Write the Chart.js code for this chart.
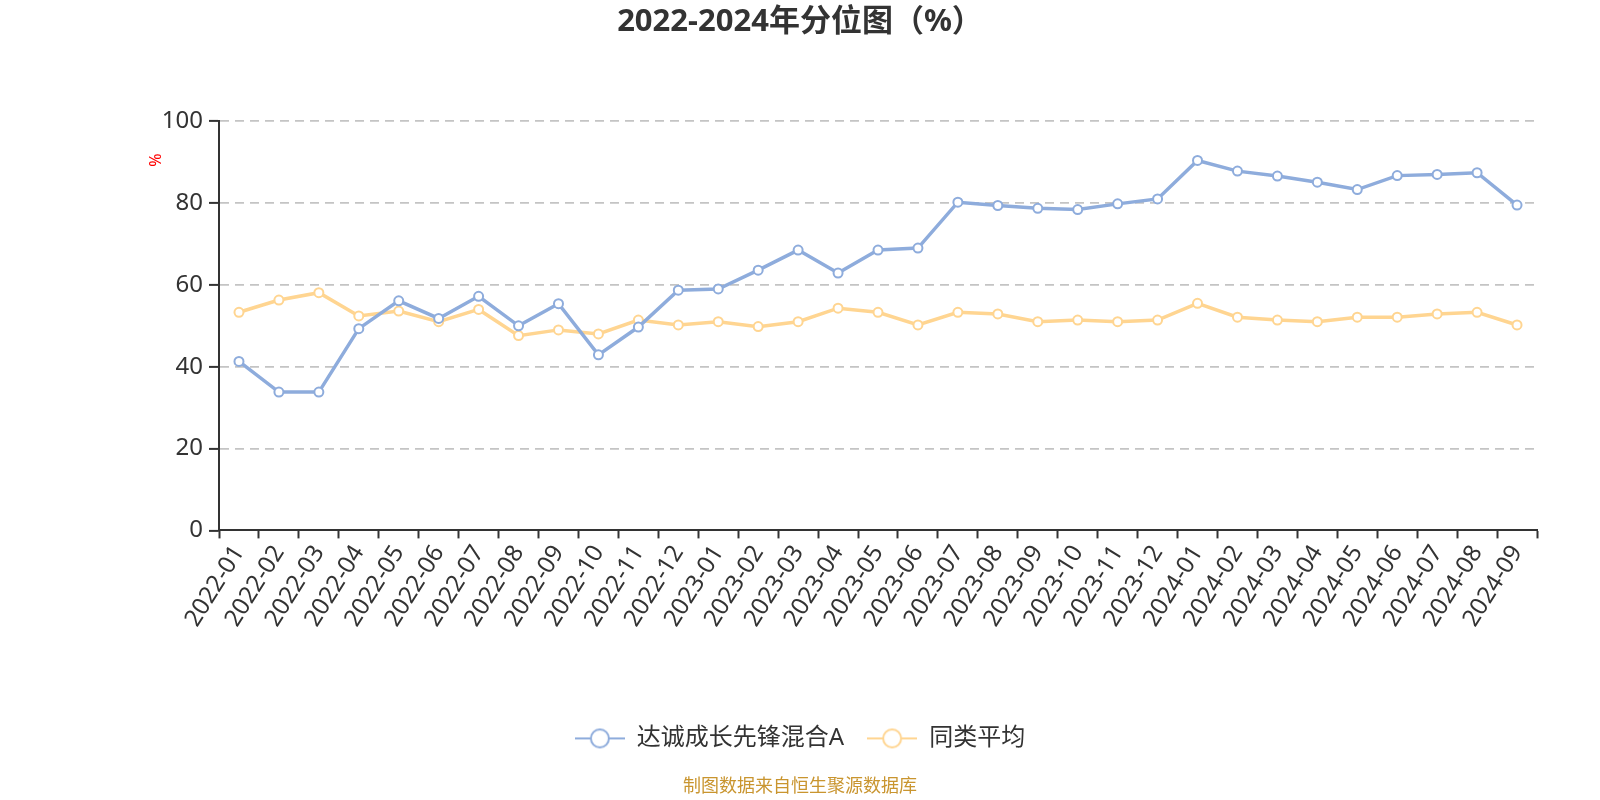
<!DOCTYPE html>
<html>
<head>
<meta charset="utf-8">
<script src="https://cdn.jsdelivr.net/npm/chart.js@4"></script>
<style>
  html, body { margin: 0; padding: 0; background: #fff; }
  #chart { display: block; }
</style>
</head>
<body>
<canvas id="chart" width="1600" height="800"></canvas>
<script>
// months on the x axis
const months = [
    '2022-01', '2022-02', '2022-03', '2022-04', '2022-05', '2022-06', '2022-07', '2022-08', '2022-09',
    '2022-10', '2022-11', '2022-12', '2023-01', '2023-02', '2023-03', '2023-04', '2023-05', '2023-06',
    '2023-07', '2023-08', '2023-09', '2023-10', '2023-11', '2023-12', '2024-01', '2024-02', '2024-03',
    '2024-04', '2024-05', '2024-06', '2024-07', '2024-08', '2024-09'
];

// 达诚成长先锋混合A
const fundValues = [
    41.3, 33.8, 33.8, 49.3, 56.1, 51.8, 57.2, 50.0, 55.4, 42.9, 49.7,
    58.7, 59.0, 63.6, 68.5, 62.9, 68.5, 69.0, 80.2, 79.4, 78.7, 78.4,
    79.8, 81.0, 90.4, 87.8, 86.6, 85.1, 83.3, 86.7, 87.0, 87.4, 79.5
];

// 同类平均
const peerValues = [
    53.3, 56.3, 58.1, 52.4, 53.6, 51.0, 54.0, 47.6, 49.0, 48.0, 51.4,
    50.2, 51.0, 49.8, 51.0, 54.3, 53.3, 50.2, 53.3, 52.9, 51.0, 51.4,
    51.0, 51.4, 55.5, 52.1, 51.4, 51.0, 52.1, 52.1, 52.9, 53.3, 50.2
];

const yTicks = [0, 20, 40, 60, 80, 100];

const FONT = '"Noto Sans", "Noto Sans CJK SC", sans-serif';
const BLUE = '#8eacdc';
const YELLOW = '#ffd591';

// legend symbol: short line with a hollow circle in the middle
function legendSymbol(color) {
    const c = document.createElement('canvas');
    c.width = 50; c.height = 24;
    const g = c.getContext('2d');
    g.strokeStyle = color;
    g.lineWidth = 2;
    g.beginPath(); g.moveTo(0, 12); g.lineTo(50, 12); g.stroke();
    g.fillStyle = '#fff';
    g.beginPath(); g.arc(25, 12, 9, 0, Math.PI * 2); g.fill(); g.stroke();
    return c;
}

// red "%" unit label beside the y axis
const unitLabel = {
    id: 'unitLabel',
    afterDraw(chart) {
        const ctx = chart.ctx;
        ctx.save();
        ctx.translate(156, 160);
        ctx.rotate(-Math.PI / 2);
        ctx.fillStyle = '#ff0000';
        ctx.font = '16px ' + FONT;
        ctx.textAlign = 'center';
        ctx.textBaseline = 'middle';
        ctx.fillText('%', 0, 0);
        ctx.restore();
    }
};

const lineSet = (label, data, color) => ({
    label,
    data,
    borderColor: color,
    backgroundColor: color,
    borderWidth: 3.5,
    tension: 0,
    pointStyle: 'circle',
    pointRadius: 4.5,
    pointHoverRadius: 4.5,
    pointBorderWidth: 2,
    pointBackgroundColor: '#fff',
    pointBorderColor: color
});

new Chart(document.getElementById('chart'), {
    type: 'line',
    data: {
        labels: months,
        datasets: [
            lineSet('达诚成长先锋混合A', fundValues, BLUE),
            lineSet('同类平均', peerValues, YELLOW)
        ]
    },
    options: {
        responsive: false,
        animation: false,
        devicePixelRatio: 1,
        layout: { padding: { left: 63, right: 63, top: 0, bottom: 0 } },
        plugins: {
            title: {
                display: true,
                text: '2022-2024年分位图（%）',
                color: '#333',
                font: { family: FONT, size: 31, weight: 'bold' },
                padding: { top: 4, bottom: 80 }
            },
            subtitle: {
                display: true,
                position: 'bottom',
                text: '制图数据来自恒生聚源数据库',
                color: '#c9952f',
                font: { family: FONT, size: 18 },
                padding: { top: 16, bottom: 2 }
            },
            legend: {
                position: 'bottom',
                labels: {
                    usePointStyle: true,
                    pointStyleWidth: 50,
                    boxHeight: 24,
                    padding: 23,
                    color: '#333',
                    font: { family: FONT, size: 24 },
                    generateLabels: chart => chart.data.datasets.map((ds, i) => ({
                        text: ds.label,
                        pointStyle: legendSymbol(ds.borderColor),
                        fillStyle: ds.borderColor,
                        strokeStyle: ds.borderColor,
                        lineWidth: 0,
                        fontColor: '#333',
                        hidden: !chart.isDatasetVisible(i),
                        datasetIndex: i
                    }))
                }
            },
            tooltip: { enabled: false }
        },
        scales: {
            x: {
                offset: true,
                grid: {
                    offset: true,
                    drawOnChartArea: false,
                    drawTicks: true,
                    tickLength: 8,
                    tickColor: '#333',
                    tickWidth: 2
                },
                border: { color: '#333', width: 2 },
                ticks: {
                    autoSkip: false,
                    minRotation: 58,
                    maxRotation: 58,
                    color: '#333',
                    padding: 2,
                    font: { family: FONT, size: 24 }
                },
                afterFit: s => { s.height = 173; }
            },
            y: {
                min: 0,
                max: 100,
                afterBuildTicks: s => { s.ticks = yTicks.map(v => ({ value: v })); },
                grid: {
                    color: ctx => ctx.tick && ctx.tick.value === 0 ? 'rgba(0,0,0,0)' : '#c4c4c4',
                    lineWidth: 1.8,
                    tickLength: 10,
                    tickColor: '#333',
                    tickWidth: 2
                },
                border: { color: '#333', width: 2, dash: [9, 6] },
                ticks: {
                    color: '#333',
                    padding: 6,
                    font: { family: FONT, size: 24 }
                },
                afterFit: s => { s.width = 156; }
            }
        }
    },
    plugins: [unitLabel]
});
</script>
</body>
</html>
